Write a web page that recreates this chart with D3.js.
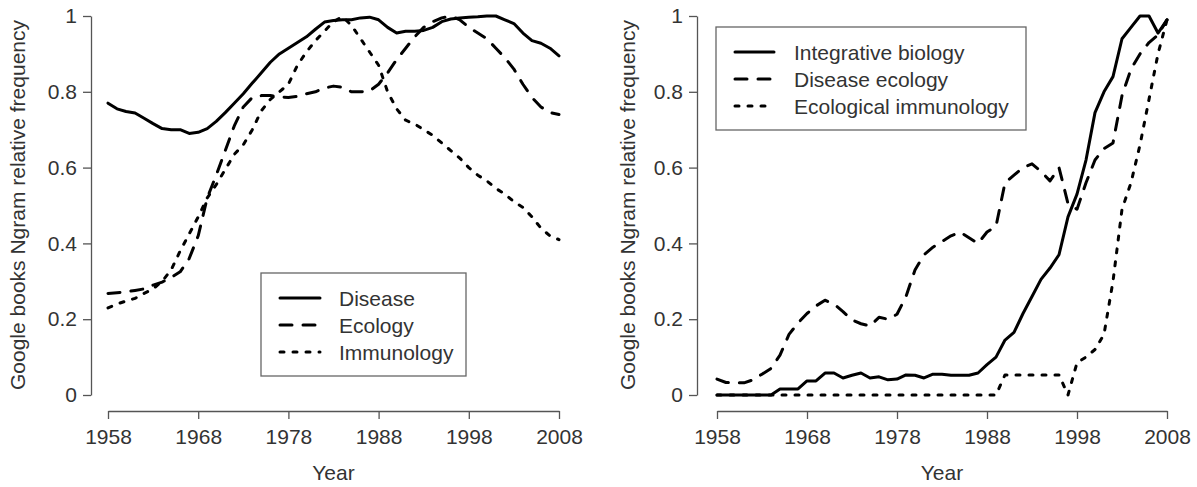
<!DOCTYPE html>
<html>
<head>
<meta charset="utf-8">
<script src="https://cdn.jsdelivr.net/npm/d3@7/dist/d3.min.js"></script>
<style>
  html, body { margin: 0; padding: 0; background: #fff; }
  svg { display: block; font-family: "Liberation Sans", Arial, Helvetica, sans-serif; }
</style>
</head>
<body>
<svg id="chart" width="1197" height="487"></svg>
<script>
// ---------- data ----------
const years = d3.range(1958, 2009);
const xTicks = [1958, 1968, 1978, 1988, 1998, 2008];
const yTicks = [0, 0.2, 0.4, 0.6, 0.8, 1];
const yTickLabels = ["0", "0.2", "0.4", "0.6", "0.8", "1"];

const leftNames = ["Disease", "Ecology", "Immunology"];
const disease = [0.77,0.755,0.748,0.744,0.73,0.716,0.703,0.70,0.70,0.69,
  0.693,0.703,0.722,0.745,0.77,0.795,0.823,0.85,0.878,0.90,
  0.915,0.93,0.945,0.965,0.984,0.988,0.99,0.99,0.995,0.997,
  0.99,0.97,0.955,0.96,0.96,0.962,0.97,0.985,0.992,0.995,
  0.997,0.998,1.0,1.0,0.99,0.98,0.955,0.935,0.928,0.915,0.895];
const ecology = [0.268,0.27,0.272,0.276,0.28,0.29,0.298,0.31,0.325,0.36,
  0.42,0.52,0.58,0.645,0.71,0.76,0.785,0.79,0.79,0.786,
  0.785,0.788,0.795,0.80,0.81,0.815,0.812,0.80,0.80,0.802,
  0.82,0.85,0.885,0.915,0.945,0.97,0.985,0.995,1.0,0.99,
  0.97,0.955,0.94,0.915,0.89,0.86,0.82,0.785,0.76,0.745,0.74];
const immunology = [0.23,0.24,0.248,0.255,0.268,0.28,0.30,0.33,0.38,0.425,
  0.47,0.52,0.555,0.595,0.635,0.66,0.70,0.75,0.78,0.80,
  0.82,0.87,0.905,0.935,0.96,0.985,0.998,0.975,0.94,0.905,
  0.87,0.80,0.755,0.725,0.715,0.70,0.685,0.665,0.645,0.625,
  0.60,0.58,0.565,0.545,0.53,0.51,0.495,0.47,0.44,0.42,0.41];

const rightNames = ["Integrative biology", "Disease ecology", "Ecological immunology"];
const integrativeBiology = [0,0,0,0,0,0,0,0.016,0.016,0.016,
  0.037,0.037,0.058,0.058,0.045,0.052,0.058,0.045,0.048,0.04,
  0.042,0.053,0.052,0.045,0.055,0.055,0.052,0.052,0.052,0.058,
  0.08,0.10,0.145,0.165,0.215,0.26,0.305,0.335,0.37,0.47,
  0.53,0.62,0.745,0.80,0.84,0.94,0.97,1.0,1.0,0.955,0.99];
const diseaseEcology = [0.042,0.033,0.032,0.032,0.04,0.055,0.07,0.105,0.16,0.19,
  0.215,0.235,0.25,0.24,0.22,0.198,0.188,0.182,0.205,0.20,
  0.213,0.26,0.33,0.37,0.39,0.405,0.42,0.43,0.415,0.40,
  0.43,0.445,0.56,0.58,0.60,0.61,0.59,0.565,0.60,0.505,
  0.49,0.56,0.62,0.65,0.665,0.79,0.86,0.90,0.93,0.95,0.99];
const ecologicalImmunology = [0,0,0,0,0,0,0,0,0,0,
  0,0,0,0,0,0,0,0,0,0,
  0,0,0,0,0,0,0,0,0,0,
  0,0,0.053,0.053,0.053,0.053,0.053,0.053,0.053,0,
  0.085,0.10,0.12,0.16,0.30,0.49,0.56,0.66,0.78,0.90,0.99];

const dashStyles = [null, "12,11", "4,9"];

// ---------- drawing ----------
const svg = d3.select("#chart");
const FONT = 21;
const TEXT = "#333";
const AXIS = "#555";

function panel(cfg) {
  const x = d3.scaleLinear().domain([1958, 2008]).range([cfg.x0, cfg.x1]);
  const y = d3.scaleLinear().domain([0, 1]).range([395, 16]);
  const g = svg.append("g");

  // y axis
  const ya = g.append("g").attr("transform", `translate(${cfg.yAxisX},0)`)
    .call(d3.axisLeft(y).tickValues(yTicks).tickFormat((d, i) => yTickLabels[i])
      .tickSize(8).tickSizeOuter(0).tickPadding(6));
  // x axis
  const xa = g.append("g").attr("transform", `translate(0,411)`)
    .call(d3.axisBottom(x).tickValues(xTicks).tickFormat(d3.format("d"))
      .tickSize(8).tickSizeOuter(0).tickPadding(10));
  [ya, xa].forEach(a => {
    a.select(".domain").attr("stroke", AXIS).attr("stroke-width", 1.3);
    a.selectAll(".tick line").attr("stroke", AXIS).attr("stroke-width", 1.3);
    a.selectAll(".tick text").attr("fill", TEXT).style("font-size", FONT + "px")
      .style("font-family", "'Liberation Sans', Arial, sans-serif");
  });

  // axis titles
  g.append("text").attr("x", (cfg.x0 + cfg.x1) / 2).attr("y", 480)
    .attr("text-anchor", "middle").attr("fill", TEXT).style("font-size", FONT + "px")
    .text("Year");
  g.append("text").attr("transform", `translate(${cfg.yLabelX},205) rotate(-90)`)
    .attr("text-anchor", "middle").attr("fill", TEXT).style("font-size", FONT + "px")
    .text("Google books Ngram relative frequency");

  // lines
  const line = d3.line().x((d, i) => x(years[i])).y(d => y(d));
  cfg.series.forEach((s, k) => {
    g.append("path").datum(s).attr("d", line)
      .attr("fill", "none").attr("stroke", "#000").attr("stroke-width", 3)
      .attr("stroke-linecap", "round").attr("stroke-linejoin", "round")
      .attr("stroke-dasharray", dashStyles[k]);
  });

  // legend
  const L = cfg.legend;
  g.append("rect").attr("x", L.x).attr("y", L.y).attr("width", L.w).attr("height", L.h)
    .attr("fill", "#fff").attr("stroke", "#666").attr("stroke-width", 1.3);
  cfg.names.forEach((n, k) => {
    const yy = L.rowY + k * 27;
    g.append("line").attr("x1", L.lx1).attr("x2", L.lx2).attr("y1", yy).attr("y2", yy)
      .attr("stroke", "#000").attr("stroke-width", 3).attr("stroke-linecap", "round")
      .attr("stroke-dasharray", dashStyles[k]);
    g.append("text").attr("x", L.tx).attr("y", yy + 7.5).attr("fill", TEXT)
      .style("font-size", FONT + "px").text(n);
  });
}

panel({
  x0: 108, x1: 559, yAxisX: 91, yLabelX: 25,
  series: [disease, ecology, immunology], names: leftNames,
  legend: { x: 261, y: 273, w: 205, h: 103, rowY: 298, lx1: 280, lx2: 320, tx: 339 }
});
panel({
  x0: 717, x1: 1167, yAxisX: 697, yLabelX: 635,
  series: [integrativeBiology, diseaseEcology, ecologicalImmunology], names: rightNames,
  legend: { x: 716, y: 27, w: 310, h: 103, rowY: 52, lx1: 735, lx2: 774, tx: 794 }
});
</script>
</body>
</html>
